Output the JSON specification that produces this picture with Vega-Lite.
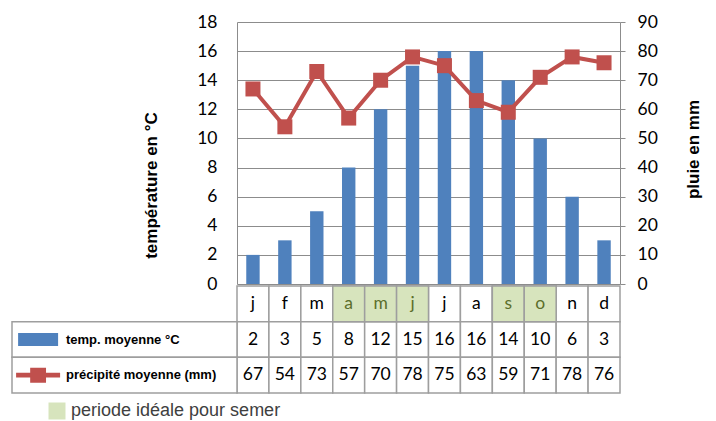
{
  "$schema": "https://vega.github.io/schema/vega-lite/v6.json",
  "background": "white",
  "padding": {"left": 11, "top": 13, "right": 5, "bottom": 0},
  "bounds": "flush",
  "spacing": 2,
  "config": {
    "view": {"stroke": null},
    "font": "Lato",
    "axis": {"labelFont": "Lato", "labelFontSize": 17.5, "labelColor": "black", "titleFont": "Liberation Sans", "titleFontSize": 17, "titleFontWeight": "bold", "titleColor": "black"}
  },
  "datasets": {
    "climat": [
      {"mois": "jan", "lettre": "j", "temp": 2, "precip": 67, "semis": false},
      {"mois": "fév", "lettre": "f", "temp": 3, "precip": 54, "semis": false},
      {"mois": "mar", "lettre": "m", "temp": 5, "precip": 73, "semis": false},
      {"mois": "avr", "lettre": "a", "temp": 8, "precip": 57, "semis": true},
      {"mois": "mai", "lettre": "m", "temp": 12, "precip": 70, "semis": true},
      {"mois": "juin", "lettre": "j", "temp": 15, "precip": 78, "semis": true},
      {"mois": "juil", "lettre": "j", "temp": 16, "precip": 75, "semis": false},
      {"mois": "aoû", "lettre": "a", "temp": 16, "precip": 63, "semis": false},
      {"mois": "sep", "lettre": "s", "temp": 14, "precip": 59, "semis": true},
      {"mois": "oct", "lettre": "o", "temp": 10, "precip": 71, "semis": true},
      {"mois": "nov", "lettre": "n", "temp": 6, "precip": 78, "semis": false},
      {"mois": "déc", "lettre": "d", "temp": 3, "precip": 76, "semis": false}
    ],
    "legende": [
      {"ligne": "temp", "libelle": "temp. moyenne °C"},
      {"ligne": "precip", "libelle": "précipité moyenne (mm)"}
    ]
  },
  "vconcat": [
    {
      "width": 383,
      "height": 262,
      "data": {"name": "climat"},
      "layer": [
        {
          "mark": {"type": "bar", "color": "#4F81BD", "width": {"band": 0.42}},
          "encoding": {
            "x": {"field": "mois", "type": "nominal", "sort": null, "scale": {"paddingInner": 0, "paddingOuter": 0}, "axis": null},
            "y": {
              "field": "temp", "type": "quantitative",
              "scale": {"domain": [0, 18], "nice": false},
              "axis": {
                "title": "température en °C",
                "values": [0, 2, 4, 6, 8, 10, 12, 14, 16, 18],
                "grid": true, "gridColor": "#8C8C8C", "gridWidth": 1,
                "ticks": false, "labelPadding": 20,
                "domainColor": "#8C8C8C", "domainWidth": 1,
                "titlePadding": 36, "titleY": 163
              }
            }
          }
        },
        {
          "mark": {"type": "line", "color": "#C0504D", "strokeWidth": 4, "point": {"shape": "square", "size": 225, "filled": true, "color": "#C0504D"}},
          "encoding": {
            "x": {"field": "mois", "type": "nominal", "sort": null},
            "y": {
              "field": "precip", "type": "quantitative",
              "scale": {"domain": [0, 90], "nice": false},
              "axis": {
                "orient": "right",
                "title": "pluie en mm",
                "values": [0, 10, 20, 30, 40, 50, 60, 70, 80, 90],
                "grid": false,
                "tickSize": 5, "tickColor": "#8C8C8C",
                "domainColor": "#8C8C8C", "domainWidth": 1,
                "labelPadding": 12,
                "titleAngle": 270, "titleBaseline": "top", "titlePadding": 28, "titleY": 127
              }
            }
          }
        }
      ],
      "resolve": {"scale": {"y": "independent"}}
    },
    {
      "width": 383,
      "height": 107,
      "layer": [
        {
          "data": {"name": "climat"},
          "transform": [{"fold": ["lettre", "temp", "precip"], "as": ["ligne", "valeur"]}],
          "layer": [
            {
              "mark": {"type": "rect", "fill": "white", "stroke": "#9E9E9E", "strokeWidth": 1.5},
              "encoding": {
                "x": {"field": "mois", "type": "nominal", "sort": null, "scale": {"paddingInner": 0, "paddingOuter": 0}, "axis": null},
                "y": {"field": "ligne", "type": "nominal", "scale": {"domain": ["lettre", "temp", "precip"], "paddingInner": 0, "paddingOuter": 0}, "axis": null}
              }
            },
            {
              "transform": [{"filter": "datum.semis && datum.ligne === 'lettre'"}],
              "mark": {"type": "rect", "stroke": "#9E9E9E", "strokeWidth": 1.5},
              "encoding": {
                "x": {"field": "mois", "type": "nominal", "sort": null},
                "y": {"field": "ligne", "type": "nominal", "scale": {"domain": ["lettre", "temp", "precip"]}},
                "fill": {
                  "datum": "periode idéale pour semer", "type": "nominal",
                  "scale": {"range": ["#D7E4BD"]},
                  "legend": {
                    "orient": "none", "legendX": -189, "legendY": 380, "title": null, "padding": 0,
                    "symbolType": "square", "symbolSize": 289, "symbolStrokeWidth": 0,
                    "labelFont": "Liberation Sans", "labelFontSize": 18, "labelColor": "#404040", "labelOffset": 5, "labelLimit": 400
                  }
                }
              }
            },
            {
              "mark": {"type": "text", "fontSize": 17.5, "font": "Lato"},
              "encoding": {
                "x": {"field": "mois", "type": "nominal", "sort": null},
                "y": {"field": "ligne", "type": "nominal", "scale": {"domain": ["lettre", "temp", "precip"]}},
                "text": {"field": "valeur", "type": "nominal"},
                "color": {"condition": {"test": "datum.semis && datum.ligne === 'lettre'", "value": "#5C6E2B"}, "value": "black"}
              }
            }
          ]
        },
        {
          "data": {"name": "legende"},
          "layer": [
            {
              "mark": {"type": "rect", "fill": "white", "stroke": "#9E9E9E", "strokeWidth": 1.5},
              "encoding": {
                "x": {"datum": "légende", "type": "nominal", "scale": {"domain": ["légende"], "range": [-225, 0], "paddingInner": 0, "paddingOuter": 0}, "axis": null},
                "y": {"field": "ligne", "type": "nominal", "scale": {"domain": ["lettre", "temp", "precip"]}}
              }
            },
            {
              "mark": {"type": "point", "filled": true, "strokeWidth": 0, "opacity": 1},
              "encoding": {
                "x": {"datum": "légende", "type": "nominal", "bandPosition": 0.116},
                "y": {"field": "ligne", "type": "nominal", "scale": {"domain": ["lettre", "temp", "precip"]}},
                "shape": {"condition": {"test": "datum.ligne === 'temp'", "value": "M-1,-0.325H1V0.325H-1Z"}, "value": "M-1,-0.11H1V0.11H-1Z M-0.36,-0.34H0.36V0.34H-0.36Z"},
                "size": {"condition": {"test": "datum.ligne === 'temp'", "value": 1600}, "value": 1936},
                "color": {"condition": {"test": "datum.ligne === 'temp'", "value": "#4F81BD"}, "value": "#C0504D"}
              }
            },
            {
              "mark": {"type": "text", "align": "left", "font": "Liberation Sans", "fontWeight": "bold", "fontSize": 13},
              "encoding": {
                "x": {"datum": "légende", "type": "nominal", "bandPosition": 0.24},
                "y": {"field": "ligne", "type": "nominal", "scale": {"domain": ["lettre", "temp", "precip"]}},
                "text": {"field": "libelle"}
              }
            }
          ]
        }
      ],
      "resolve": {"scale": {"x": "independent"}}
    }
  ]
}
